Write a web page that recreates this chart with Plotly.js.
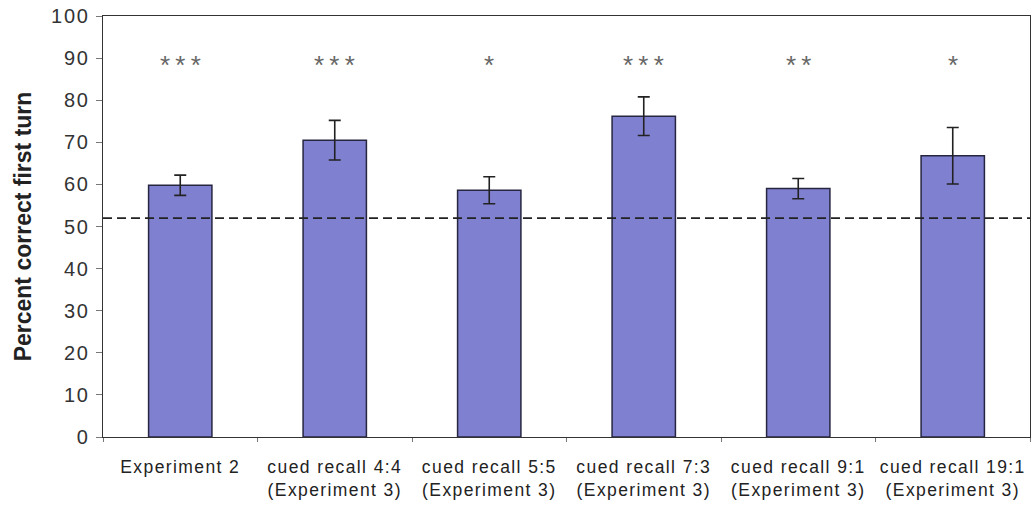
<!DOCTYPE html>
<html>
<head>
<meta charset="utf-8">
<script src="https://cdn.plot.ly/plotly-3.0.1.min.js"></script>
<style>
html,body{margin:0;padding:0;background:#fff;}
#chart{width:1032px;height:512px;}
#chart .xtick text{letter-spacing:1.4px;}
#chart .ytick text{letter-spacing:1.8px;}
</style>
</head>
<body>
<div id="chart"></div>
<script>
var categories = ["Experiment 2", "cued recall 4:4<br>(Experiment 3)", "cued recall 5:5<br>(Experiment 3)", "cued recall 7:3<br>(Experiment 3)", "cued recall 9:1<br>(Experiment 3)", "cued recall 19:1<br>(Experiment 3)"];
var values = [59.8, 70.5, 58.6, 76.2, 59.0, 66.8];
var errors = [2.4, 4.7, 3.2, 4.6, 2.4, 6.7];
var significance = ["*\u2009*\u2009*", "*\u2009*\u2009*", "*", "*\u2009*\u2009*", "*\u2009*", "*"];
var sigLevel = 89.8;
var chanceLevel = 52;
var yTicks = [0, 10, 20, 30, 40, 50, 60, 70, 80, 90, 100];

var trace = {
  type: "bar",
  x: categories,
  y: values,
  width: 0.41,
  marker: {color: "#8080D0", line: {color: "#262640", width: 1.5}},
  error_y: {type: "data", array: errors, visible: true, color: "#222", thickness: 1.6, width: 6},
  hoverinfo: "skip"
};

var annotations = categories.map(function(c, i){
  return {x: c, y: sigLevel, xref: "x", yref: "y", text: significance[i], showarrow: false, yshift: -6,
          font: {family: "Liberation Sans, Arial", size: 26, color: "#666"}};
});

var layout = {
  width: 1032, height: 512,
  margin: {l: 103, r: 2, t: 16, b: 75, pad: 0},
  paper_bgcolor: "#fff", plot_bgcolor: "#fff",
  showlegend: false,
  xaxis: {
    type: "category",
    tickson: "boundaries",
    ticks: "outside", ticklen: 4, tickcolor: "#777",
    showline: true, linecolor: "#333", linewidth: 1.2, mirror: true,
    showgrid: false,
    ticklabelstandoff: 14,
    tickfont: {family: "Liberation Sans, Arial", size: 17.5, color: "#222"}
  },
  yaxis: {
    range: [0, 100],
    tickvals: yTicks,
    ticks: "outside", ticklen: 6, tickcolor: "#777",
    showline: true, linecolor: "#333", linewidth: 1.2, mirror: true,
    showgrid: false, zeroline: false,
    ticklabelstandoff: 2,
    tickfont: {family: "Liberation Sans, Arial", size: 20, color: "#333"},
    title: {text: "<b>Percent correct first turn</b>", font: {family: "Liberation Sans, Arial", size: 23, color: "#222"}, standoff: 18}
  },
  shapes: [{type: "line", xref: "paper", x0: 0, x1: 1, yref: "y", y0: chanceLevel, y1: chanceLevel,
            line: {color: "#222", width: 1.8, dash: "9px,5px"}}],
  annotations: annotations
};

Plotly.newPlot("chart", [trace], layout, {staticPlot: true});
</script>
</body>
</html>
